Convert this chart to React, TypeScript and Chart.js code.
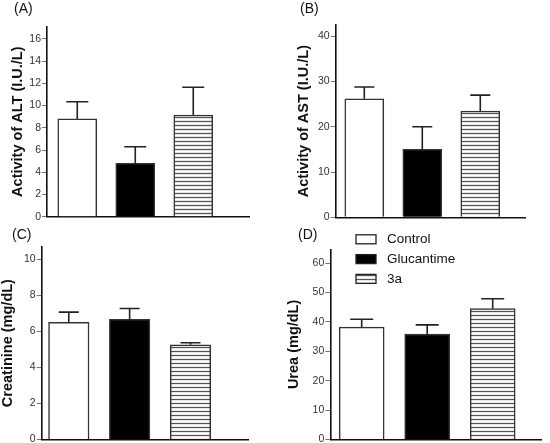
import { useEffect, useRef } from "react"
import { Chart, registerables, type Plugin } from "chart.js"

Chart.register(...registerables)

const groups = ["Control", "Glucantime", "3a"]

// (A) ALT
const altMean = [8.8, 4.8, 9.15]
const altSd = [1.55, 1.5, 2.5]
const altTicks = [0, 2, 4, 6, 8, 10, 12, 14, 16]

// (B) AST
const astMean = [26.2, 15.0, 23.5]
const astSd = [2.6, 5.0, 3.5]
const astTicks = [0, 10, 20, 30, 40]

// (C) Creatinine
const creatMean = [6.5, 6.67, 5.26]
const creatSd = [0.57, 0.6, 0.11]
const creatTicks = [0, 2, 4, 6, 8, 10]

// (D) Urea
const ureaMean = [38.2, 35.9, 44.5]
const ureaSd = [2.7, 3.1, 3.4]
const ureaTicks = [0, 10, 20, 30, 40, 50, 60]

const FONT = "'Liberation Sans', Arial, sans-serif"

function stripePattern(): CanvasPattern | string {
  const c = document.createElement("canvas")
  c.width = 4
  c.height = 4
  const g = c.getContext("2d")
  if (!g) return "#fff"
  g.fillStyle = "#fff"
  g.fillRect(0, 0, 4, 4)
  g.strokeStyle = "#555"
  g.lineWidth = 1.3
  g.beginPath()
  g.moveTo(0, 1.5)
  g.lineTo(4, 1.5)
  g.stroke()
  return g.createPattern(c, "repeat") || "#fff"
}

function errorBars(sd: number[], cap: number): Plugin<"bar"> {
  return {
    id: "errorBars",
    afterDatasetsDraw(chart) {
      const { ctx } = chart
      const y = chart.scales.y
      const meta = chart.getDatasetMeta(0)
      ctx.save()
      ctx.strokeStyle = "#222"
      ctx.lineWidth = 1.6
      meta.data.forEach((bar: any, i) => {
        const v = (chart.data.datasets[0].data[i] as any).y
        const y0 = y.getPixelForValue(v)
        const y1 = y.getPixelForValue(v + sd[i])
        ctx.beginPath()
        ctx.moveTo(bar.x, y0)
        ctx.lineTo(bar.x, y1)
        ctx.moveTo(bar.x - cap / 2, y1)
        ctx.lineTo(bar.x + cap / 2, y1)
        ctx.stroke()
      })
      ctx.restore()
    },
  }
}

function panelLabel(text: string, x: number, y: number): Plugin<"bar"> {
  return {
    id: "panelLabel",
    afterDraw(chart) {
      const { ctx } = chart
      ctx.save()
      ctx.font = `14px ${FONT}`
      ctx.fillStyle = "#111"
      ctx.textBaseline = "middle"
      ctx.textAlign = "left"
      ctx.fillText(text, x, y)
      ctx.restore()
    },
  }
}

function groupLegend(x: number, y: number, step: number): Plugin<"bar"> {
  return {
    id: "groupLegend",
    afterDraw(chart) {
      const { ctx } = chart
      const fills = chart.data.datasets[0].backgroundColor as any[]
      ctx.save()
      ctx.font = `13.5px ${FONT}`
      ctx.textBaseline = "middle"
      groups.forEach((name, i) => {
        const cy = y + i * step
        ctx.fillStyle = fills[i]
        ctx.fillRect(x, cy - 4.5, 20, 9)
        ctx.strokeStyle = "#222"
        ctx.lineWidth = 1.3
        ctx.strokeRect(x, cy - 4.5, 20, 9)
        ctx.fillStyle = "#111"
        ctx.fillText(name, x + 31, cy)
      })
      ctx.restore()
    },
  }
}

type PanelProps = {
  left: number
  top: number
  mean: number[]
  sd: number[]
  ticks: number[]
  yMax: number
  title: string
  titlePad: number
  label: string
  labelX: number
  labelY: number
  yWidth: number
  pad: { top: number; right: number; bottom: number }
  xMin: number
  xMax: number
  barWidth: number
  cap: number
  legend?: boolean
}

const W = 275
const H = 240

function Panel(p: PanelProps) {
  const ref = useRef<HTMLCanvasElement>(null)

  useEffect(() => {
    if (!ref.current) return
    const stripes = stripePattern()
    const plugins: Plugin<"bar">[] = [errorBars(p.sd, p.cap), panelLabel(p.label, p.labelX, p.labelY)]
    if (p.legend) plugins.push(groupLegend(81, 17.3, 19.8))

    const chart = new Chart(ref.current, {
      type: "bar",
      data: {
        datasets: [
          {
            data: p.mean.map((v, i) => ({ x: i, y: v })),
            backgroundColor: ["#ffffff", "#000000", stripes as any],
            borderColor: "#333",
            borderWidth: 1.5,
            barThickness: p.barWidth,
          },
        ],
      },
      options: {
        animation: false,
        responsive: false,
        events: [],
        layout: { padding: { left: 0, top: p.pad.top, right: p.pad.right, bottom: p.pad.bottom } },
        plugins: {
          legend: { display: false },
          tooltip: { enabled: false },
        },
        scales: {
          x: {
            type: "linear",
            min: p.xMin,
            max: p.xMax,
            offset: false,
            z: 1,
            ticks: { display: false },
            grid: { display: false, offset: false },
            border: { display: true, color: "#111", width: 1.6 },
            afterFit: (s: any) => {
              s.height = 0
            },
          },
          y: {
            min: 0,
            max: p.yMax,
            z: 1,
            afterBuildTicks: (s: any) => {
              s.ticks = p.ticks.map((v) => ({ value: v }))
            },
            afterFit: (s: any) => {
              s.width = p.yWidth
            },
            ticks: {
              padding: 1,
              color: "#333",
              font: { family: FONT, size: 10.5 },
            },
            grid: {
              drawOnChartArea: false,
              drawTicks: true,
              tickLength: 5,
              color: "#777",
              lineWidth: 1,
            },
            border: { display: true, color: "#111", width: 1.6 },
            title: {
              display: true,
              text: p.title,
              color: "#111",
              padding: { top: p.titlePad, bottom: 0 },
              font: { family: FONT, size: 14.5, weight: "bold", lineHeight: 1 },
            },
          },
        },
      },
      plugins,
    })

    return () => chart.destroy()
  }, [])

  return (
    <div style={{ position: "absolute", left: p.left, top: p.top, width: W, height: H }}>
      <canvas ref={ref} width={W} height={H} style={{ width: W, height: H, display: "block" }} />
    </div>
  )
}

export default function App() {
  return (
    <div
      style={{
        position: "absolute",
        left: 0,
        top: 0,
        width: 550,
        height: 443,
        overflow: "hidden",
        background: "#fff",
      }}
    >
      <Panel
        left={0}
        top={0}
        mean={altMean}
        sd={altSd}
        ticks={altTicks}
        yMax={17.1}
        title="Activity of ALT (I.U./L)"
        titlePad={10.5}
        label="(A)"
        labelX={14}
        labelY={9}
        yWidth={47}
        pad={{ top: 26.7, right: 26, bottom: 23.3 }}
        xMin={-0.522}
        xMax={2.961}
        barWidth={39}
        cap={22}
      />
      <Panel
        left={275}
        top={0}
        mean={astMean}
        sd={astSd}
        ticks={astTicks}
        yMax={42.5}
        title="Activity of AST (I.U./L)"
        titlePad={21.5}
        label="(B)"
        labelX={25}
        labelY={9}
        yWidth={60.7}
        pad={{ top: 25, right: 25, bottom: 22.7 }}
        xMin={-0.493}
        xMax={2.771}
        barWidth={39}
        cap={20}
      />
      <Panel
        left={0}
        top={222}
        mean={creatMean}
        sd={creatSd}
        ticks={creatTicks}
        yMax={10.7}
        title="Creatinine (mg/dL)"
        titlePad={0.5}
        label="(C)"
        labelX={12}
        labelY={13}
        yWidth={41.7}
        pad={{ top: 24.7, right: 26.7, bottom: 22.5 }}
        xMin={-0.445}
        xMax={2.95}
        barWidth={40.5}
        cap={20}
      />
      <Panel
        left={275}
        top={222}
        mean={ureaMean}
        sd={ureaSd}
        ticks={ureaTicks}
        yMax={64.7}
        title="Urea (mg/dL)"
        titlePad={11.4}
        label="(D)"
        labelX={23}
        labelY={13}
        yWidth={55.3}
        pad={{ top: 27.3, right: 8.3, bottom: 22.5 }}
        xMin={-0.479}
        xMax={2.748}
        barWidth={45}
        cap={23}
        legend
      />
    </div>
  )
}
